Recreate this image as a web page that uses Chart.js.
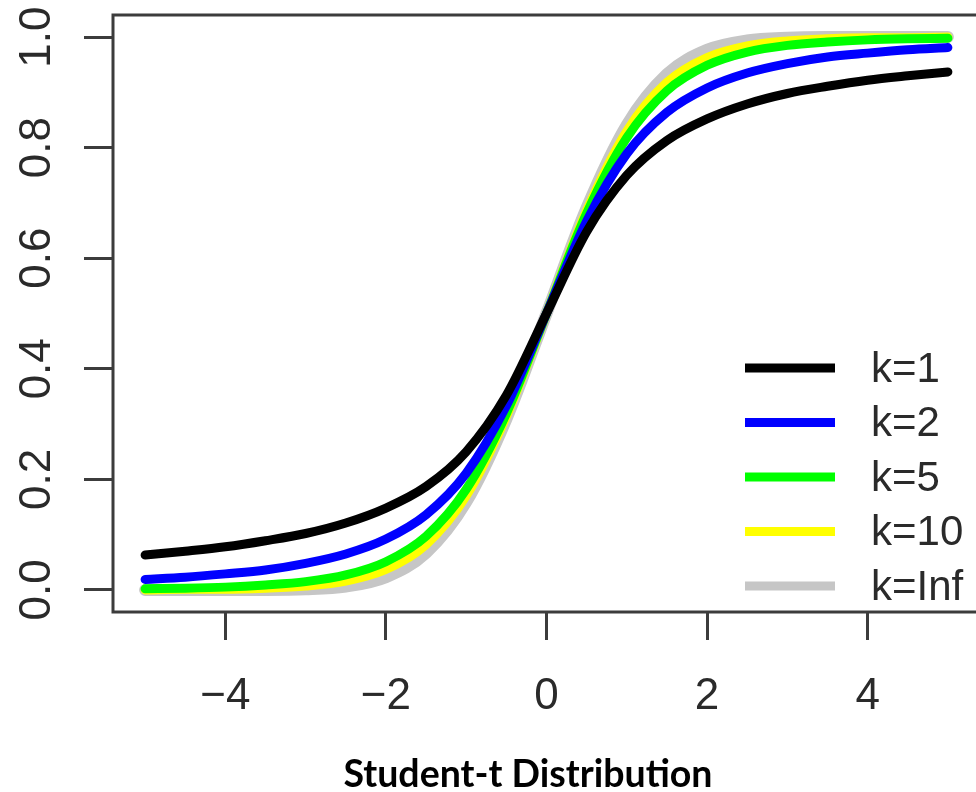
<!DOCTYPE html>
<html>
<head>
<meta charset="utf-8">
<script src="https://cdn.jsdelivr.net/npm/chart.js@4.4.1/dist/chart.umd.min.js"></script>
<style>
  html, body { margin: 0; padding: 0; background: #fff; overflow: hidden; }
  #wrap { position: relative; width: 1000px; height: 792px; }
  #caption {
    position: absolute; left: 0; width: 1056px; top: 750px;
    text-align: center; font-family: "Lato", "Open Sans", sans-serif;
    font-weight: 700; font-size: 37.5px; color: #000;
  }
</style>
</head>
<body>
<div id="wrap">
  <canvas id="tcdf" width="1000" height="792"></canvas>
  <div id="caption">Student-t Distribution</div>
</div>
<script>
// x positions the curves were read at
const xs = [-5, -4.5, -4, -3.5, -3, -2.5, -2, -1.5, -1, -0.5, 0, 0.5, 1, 1.5, 2, 2.5, 3, 3.5, 4, 4.5, 5];

// values, one list per curve
const k1   = [0.063, 0.070, 0.078, 0.089, 0.102, 0.121, 0.148, 0.187, 0.250, 0.352, 0.500, 0.648, 0.750, 0.813, 0.852, 0.879, 0.898, 0.911, 0.922, 0.930, 0.937];
const k2   = [0.019, 0.023, 0.029, 0.036, 0.048, 0.065, 0.092, 0.136, 0.211, 0.333, 0.500, 0.667, 0.789, 0.864, 0.908, 0.935, 0.952, 0.964, 0.971, 0.977, 0.981];
const k5   = [0.002, 0.003, 0.005, 0.009, 0.015, 0.027, 0.051, 0.097, 0.182, 0.319, 0.500, 0.681, 0.818, 0.903, 0.949, 0.973, 0.985, 0.991, 0.995, 0.997, 0.998];
const k10  = [0.000, 0.001, 0.001, 0.003, 0.007, 0.016, 0.037, 0.082, 0.170, 0.314, 0.500, 0.686, 0.830, 0.918, 0.963, 0.984, 0.993, 0.997, 0.999, 0.999, 1.000];
const kInf = [0.000, 0.000, 0.000, 0.000, 0.001, 0.006, 0.023, 0.067, 0.159, 0.309, 0.500, 0.691, 0.841, 0.933, 0.977, 0.994, 0.999, 1.000, 1.000, 1.000, 1.000];

const seriesNames = ["k=1", "k=2", "k=5", "k=10", "k=Inf"];

// tick positions and their labels
const xTicks = [-4, -2, 0, 2, 4];
const xTickLabels = ["\u22124", "\u22122", "0", "2", "4"];
const yTicks = [0, 0.2, 0.4, 0.6, 0.8, 1.0];
const yTickLabels = ["0.0", "0.2", "0.4", "0.6", "0.8", "1.0"];

const axisColor = "#3c3c3c";
const colors = ["#000000", "#0000ff", "#00ff00", "#ffff00", "#c6c6c6"];
const widths = [9, 9, 9, 9, 12];

function pts(arr) {
    return xs.map((x, i) => ({ x: x, y: arr[i] }));
}

const allSeries = [k1, k2, k5, k10, kInf];
const datasets = allSeries.map((arr, i) => ({
    label: seriesNames[i],
    data: pts(arr),
    borderColor: colors[i],
    borderWidth: widths[i],
    borderCapStyle: "round",
    borderJoinStyle: "round",
    cubicInterpolationMode: "monotone",
    pointRadius: 0,
    fill: false
}));

// box around the plot, rotated y labels, legend in the lower right
const rStyle = {
    id: "rStyle",
    afterDraw(chart) {
        const ctx = chart.ctx;
        const a = chart.chartArea;
        const ys = chart.scales.y;
        ctx.save();
        ctx.strokeStyle = axisColor;
        ctx.lineWidth = 3;
        ctx.strokeRect(a.left, a.top, a.right - a.left, a.bottom - a.top);

        ctx.fillStyle = "#2a2a2a";
        ctx.font = "44px 'Liberation Sans', Arial, sans-serif";
        ctx.textAlign = "center";
        ctx.textBaseline = "alphabetic";
        yTicks.forEach((v, i) => {
            const py = ys.getPixelForValue(v);
            ctx.save();
            ctx.translate(50, py);
            ctx.rotate(-Math.PI / 2);
            ctx.fillText(yTickLabels[i], 0, 0);
            ctx.restore();
        });

        // legend
        ctx.font = "42px 'Liberation Sans', Arial, sans-serif";
        ctx.textAlign = "left";
        ctx.textBaseline = "middle";
        ctx.lineCap = "butt";
        chart.data.datasets.forEach((ds, i) => {
            const ly = 368 + i * 54.5;
            ctx.strokeStyle = ds.borderColor;
            ctx.lineWidth = 9;
            ctx.beginPath();
            ctx.moveTo(745, ly);
            ctx.lineTo(835, ly);
            ctx.stroke();
            ctx.fillStyle = "#2a2a2a";
            ctx.fillText(ds.label, 871, ly + 2);
        });
        ctx.restore();
    }
};

new Chart(document.getElementById("tcdf"), {
    type: "line",
    data: { datasets: datasets },
    options: {
        responsive: false,
        animation: false,
        layout: { padding: { left: 0, top: 15, right: 20, bottom: 0 } },
        plugins: { legend: { display: false }, tooltip: { enabled: false } },
        scales: {
            x: {
                type: "linear",
                min: -5.4,
                max: 5.4,
                afterBuildTicks: s => { s.ticks = xTicks.map(v => ({ value: v })); },
                afterFit: s => { s.height = 180; },
                border: { display: false },
                grid: { drawOnChartArea: false, drawTicks: true, tickLength: 28, tickColor: axisColor, tickWidth: 3 },
                ticks: {
                    autoSkip: false,
                    maxRotation: 0,
                    padding: 30,
                    color: "#2a2a2a",
                    font: { family: "'Liberation Sans', Arial, sans-serif", size: 44 },
                    callback: v => xTickLabels[xTicks.indexOf(v)]
                }
            },
            y: {
                type: "linear",
                min: -0.04,
                max: 1.04,
                afterBuildTicks: s => { s.ticks = yTicks.map(v => ({ value: v })); },
                afterFit: s => { s.width = 113; },
                border: { display: false },
                grid: { drawOnChartArea: false, drawTicks: true, tickLength: 29, tickColor: axisColor, tickWidth: 3 },
                ticks: { display: false }
            }
        }
    },
    plugins: [rStyle]
});
</script>
</body>
</html>
